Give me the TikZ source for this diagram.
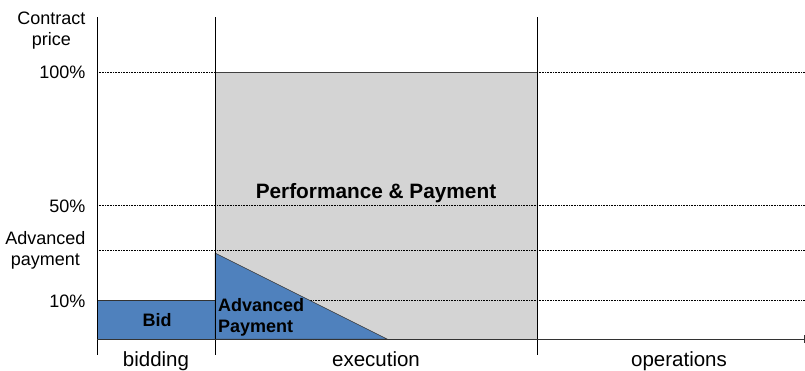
\documentclass[tikz,border=0pt]{standalone}
\usepackage{fontspec}
\setmainfont{Liberation Sans}

\definecolor{payblue}{RGB}{79,129,189}
\definecolor{execgrey}{RGB}{212,212,212}

\tikzset{
  level/.style={densely dotted, line width=0.6pt},
  phaseline/.style={line width=0.9pt},
  ylabel/.style={anchor=east, align=center, font=\fontsize{18}{21}\selectfont},
  phaselabel/.style={anchor=base, font=\fontsize{20.5}{24}\selectfont},
  arealabel/.style={anchor=base, font=\bfseries\fontsize{18}{21}\selectfont}
}

\begin{document}
\begin{tikzpicture}[x=1pt,y=-1pt]
\useasboundingbox (0,0) rectangle (805,370);

% execution block
\fill[execgrey] (215,72) rectangle (537,339);

% levels
\draw[level] (97,72) -- (805,72);
\draw[level] (97,205) -- (805,205);
\draw[level] (97,250) -- (805,250);
\draw[level] (97,300) -- (805,300);
\draw[black!75, line width=0.7pt] (215,72) -- (537,72);

% bid and advanced payment
\filldraw[fill=payblue, draw=black!80, line width=0.5pt] (97,300) rectangle (215,339);
\filldraw[fill=payblue, draw=black!80, line width=0.5pt] (215,253) -- (387,339) -- (215,339) -- cycle;

% phases
\draw[phaseline] (97,17) -- (97,355);
\draw[phaseline] (215,17) -- (215,355);
\draw[phaseline] (537,17) -- (537,355);
\draw[black!80, line width=0.7pt] (97,339) -- (805,339);
\draw[black!80, line width=0.7pt] (804,335) -- (804,343);

\node[ylabel] (price) at (89,31) {Contract\\price};
\node[ylabel] (full) at (89,72) {100\%};
\node[ylabel] (half) at (89,206) {50\%};
\node[ylabel] (adv) at (89,250) {Advanced\\payment};
\node[ylabel] (ten) at (89,301) {10\%};

\node[arealabel, font=\bfseries\fontsize{20.8}{24}\selectfont] (perf) at (376,198) {Performance \& Payment};
\node[arealabel] (bid) at (157,326) {Bid};
\node[arealabel, anchor=north west, align=left, inner sep=0pt] (advpay) at (218,298) {Advanced\\Payment};

\node[phaselabel] (bidding) at (156,366) {bidding};
\node[phaselabel] (execution) at (376,366) {execution};
\node[phaselabel] (operations) at (679,366) {operations};
\end{tikzpicture}
\end{document}
